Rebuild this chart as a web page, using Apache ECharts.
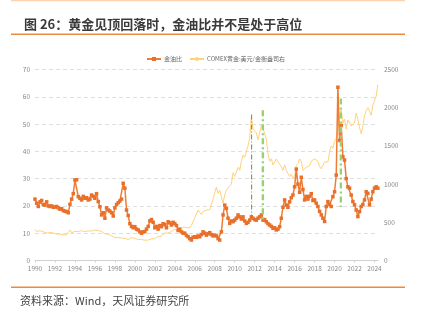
<!DOCTYPE html>
<html><head><meta charset="utf-8">
<script src="https://cdn.jsdelivr.net/npm/echarts@6/dist/echarts.min.js"></script>
<style>html,body{margin:0;padding:0;background:#fff;}#c{width:421px;height:323px;}</style>
</head><body><div id="c"></div>
<script>
// Bi-monthly observations starting Jan 1990 (6 per year)
const startYear = 1990;
const stepsPerYear = 6;

// 金油比 (left axis)
const ratioValues = [
  22.5, 21.0, 19.8, 21.5, 22.0, 20.5,   // 1990
  20.3, 21.5, 20.0, 19.8, 20.0, 19.5,   // 1991
  19.6, 19.8, 19.3, 18.8, 19.0, 18.3,   // 1992
  18.1, 17.9, 17.5, 20.6, 22.5, 24.5,   // 1993
  29.5, 29.6, 23.4, 22.8, 22.2, 23.5,   // 1994
  22.8, 23.0, 22.2, 22.5, 24.0, 23.5,   // 1995
  22.8, 24.5, 21.6, 19.7, 16.7, 17.5,   // 1996
  15.5, 19.3, 18.5, 18.1, 17.5, 16.3,   // 1997
  19.3, 20.5, 21.2, 21.8, 22.5, 28.3,   // 1998
  26.5, 18.5, 16.5, 13.5, 12.5, 12.0,   // 1999
  12.4, 11.5, 11.2, 10.5, 10.0, 10.5,   // 2000
  10.6, 11.5, 12.5, 14.5, 15.0, 14.0,   // 2001
  12.0, 12.5, 11.5, 12.8, 12.4, 13.5,   // 2002
  13.2, 12.0, 14.2, 13.8, 13.0, 14.0,   // 2003
  13.5, 12.8, 11.0, 11.5, 10.5, 10.0,   // 2004
  10.0, 9.2, 8.7, 8.0, 7.5, 8.5,        // 2005
  8.7, 8.5, 9.0, 8.7, 9.5, 10.5,        // 2006
  10.0, 9.3, 9.8, 10.2, 9.5, 9.0,       // 2007
  9.3, 9.0, 8.0, 7.5, 10.5, 16.7,       // 2008
  20.3, 19.1, 15.5, 13.6, 14.5, 14.2,   // 2009
  14.8, 15.5, 16.7, 16.0, 15.2, 16.0,   // 2010
  14.5, 13.6, 14.0, 14.8, 16.0, 15.5,   // 2011
  15.0, 14.8, 15.5, 16.0, 16.7, 14.8,   // 2012
  15.0, 14.2, 13.5, 13.0, 12.5, 11.8,   // 2013
  12.0, 11.2, 11.5, 12.4, 15.5, 19.5,   // 2014
  22.2, 20.3, 19.5, 21.5, 23.0, 24.0,   // 2015
  27.0, 33.5, 28.0, 25.0, 30.5, 26.0,   // 2016
  22.2, 23.5, 22.5, 23.5, 24.5, 22.0,   // 2017
  22.2, 21.0, 19.8, 18.0, 16.7, 15.5,   // 2018
  14.3, 19.8, 21.6, 20.5, 19.8, 23.4,   // 2019
  25.2, 31.3, 63.5, 44.0, 49.5, 38.0,   // 2020
  36.8, 30.0, 27.0, 26.5, 24.0, 21.6,   // 2021
  20.4, 18.5, 16.1, 17.9, 19.8, 20.5,   // 2022
  22.2, 25.2, 24.6, 20.4, 22.5, 25.2,   // 2023
  26.5, 27.0, 26.5                      // 2024
];

// COMEX黄金 美元/金衡盎司 (right axis)
const goldValues = [
  409, 380, 357, 390, 400, 375,         // 1990
  366, 360, 355, 365, 355, 360,         // 1991
  350, 345, 340, 345, 348, 335,         // 1992
  332, 335, 370, 400, 365, 372,         // 1993
  380, 385, 380, 385, 390, 382,         // 1994
  378, 385, 388, 385, 385, 388,         // 1995
  400, 398, 392, 385, 380, 375,         // 1996
  350, 350, 345, 325, 322, 305,         // 1997
  300, 295, 300, 292, 295, 292,         // 1998
  290, 285, 275, 260, 300, 295,         // 1999
  290, 285, 275, 285, 275, 265,         // 2000
  265, 262, 268, 268, 285, 278,         // 2001
  285, 295, 315, 310, 320, 320,         // 2002
  360, 335, 360, 350, 380, 395,         // 2003
  410, 410, 385, 400, 410, 440,         // 2004
  425, 430, 425, 430, 460, 485,         // 2005
  560, 570, 660, 640, 600, 640,         // 2006
  650, 660, 670, 665, 740, 800,         // 2007
  890, 960, 880, 920, 830, 750,         // 2008
  860, 920, 950, 950, 1000, 1150,       // 2009
  1100, 1110, 1220, 1180, 1300, 1380,   // 2010
  1350, 1430, 1500, 1600, 1880, 1720,   // 2011
  1700, 1670, 1580, 1600, 1770, 1720,   // 2012
  1670, 1580, 1400, 1300, 1330, 1250,   // 2013
  1250, 1330, 1290, 1310, 1230, 1180,   // 2014
  1250, 1180, 1190, 1100, 1130, 1070,   // 2015
  1110, 1240, 1270, 1330, 1300, 1180,   // 2016
  1190, 1220, 1240, 1240, 1300, 1280,   // 2017
  1330, 1320, 1300, 1230, 1200, 1220,   // 2018
  1290, 1300, 1290, 1420, 1500, 1470,   // 2019
  1560, 1600, 1720, 1900, 1980, 1800,   // 2020
  1850, 1720, 1840, 1800, 1760, 1780,   // 2021
  1800, 1930, 1850, 1740, 1660, 1760,   // 2022
  1900, 1960, 2000, 1950, 1900, 2030,   // 2023
  2050, 2150, 2300                      // 2024
];

// Green dash-dot guide lines (year, top / bottom in right-axis units)
const guideYears = [2011.69, 2012.82, 2020.63];
const guideTop = [1910, 1965, 2120];
const guideBottom = [560, 540, 700];

const seriesNames = ['金油比', 'COMEX黄金:美元/金衡盎司右'];
const titleText = '图 26：黄金见顶回落时，金油比并不是处于高位';
const sourceText = '资料来源：Wind，天风证券研究所';

const FONT = '"Noto Sans CJK SC", "Noto Sans", sans-serif';
const toPairs = arr => arr.map((v, i) => [startYear + i / stepsPerYear, v]);

const guideStyles = [
  { color: '#62a83c', width: 1.1, type: [5, 2, 1, 2] },
  { color: '#96d274', width: 2.4, type: [6, 3, 2, 3] },
  { color: '#96d274', width: 2.4, type: [6, 3, 2, 3] }
];

const guideSeries = guideYears.map((yr, i) => ({
  type: 'line', yAxisIndex: 1, silent: true, symbol: 'none', z: 6,
  data: [[yr, guideTop[i]], [yr, guideBottom[i]]],
  lineStyle: guideStyles[i]
}));

const chart = echarts.init(document.getElementById('c'), null, { renderer: 'canvas' });
chart.setOption({
  animation: false,
  backgroundColor: '#fff',
  textStyle: { fontFamily: FONT },
  title: {
    text: titleText, left: 19, top: 13,
    textStyle: { fontSize: 13, fontWeight: 'bold', color: '#3a3a3a', fontFamily: FONT }
  },
  legend: {
    data: seriesNames, left: 141, top: 51, itemWidth: 14, itemHeight: 5, itemGap: 7,
    textStyle: { fontSize: 6, color: '#666', fontFamily: FONT, padding: [0, 0, 0, -2] }
  },
  grid: { left: 35, right: 43, top: 69.5, bottom: 62.5, containLabel: false },
  xAxis: {
    type: 'value', min: 1990, max: 2024.35, interval: 2,
    axisLine: { show: true, lineStyle: { color: '#d0d0d0' } },
    axisTick: { show: true, length: 2, lineStyle: { color: '#d0d0d0' } },
    splitLine: { show: false },
    axisLabel: {
      fontSize: 6.5, color: '#888', margin: 5, showMaxLabel: false,
      formatter: v => (Math.abs(v - Math.round(v)) < 1e-6 && Math.round(v) % 2 === 0) ? String(Math.round(v)) : ''
    }
  },
  yAxis: [
    {
      type: 'value', min: 0, max: 70, interval: 10,
      axisLine: { show: false }, axisTick: { show: false },
      axisLabel: { fontSize: 6.5, color: '#888', margin: 5 },
      splitLine: { show: true, lineStyle: { color: '#dedede', type: [4, 3], width: 1 } }
    },
    {
      type: 'value', min: 0, max: 2500, interval: 500, position: 'right',
      axisLine: { show: false }, axisTick: { show: false },
      axisLabel: { fontSize: 6.5, color: '#888', margin: 6, formatter: v => String(v) },
      splitLine: { show: false }
    }
  ],
  series: [
    {
      name: seriesNames[1], type: 'line', yAxisIndex: 1, symbol: 'none', z: 2,
      data: toPairs(goldValues),
      lineStyle: { color: '#FFD27A', width: 1 },
      itemStyle: { color: '#FFD27A' }
    },
    {
      name: seriesNames[0], type: 'line', yAxisIndex: 0, z: 3,
      symbol: 'rect', symbolSize: 3.5, showSymbol: true, showAllSymbol: true,
      data: toPairs(ratioValues),
      lineStyle: { color: '#EE7C35', width: 1.5 },
      itemStyle: { color: '#E8702A' }
    },
    ...guideSeries
  ],
  graphic: [
    { type: 'line', shape: { x1: 11, y1: 0.5, x2: 405, y2: 0.5 }, style: { stroke: '#FBD3B0', lineWidth: 1.5 } },
    { type: 'line', shape: { x1: 11, y1: 34.3, x2: 405, y2: 34.3 }, style: { stroke: '#EE8A3C', lineWidth: 1.5 } },
    { type: 'line', shape: { x1: 11, y1: 287.3, x2: 405, y2: 287.3 }, style: { stroke: '#EE8A3C', lineWidth: 1.5 } },
    { type: 'text', left: 20, top: 295, style: { text: sourceText, fontSize: 11, fill: '#444', fontFamily: FONT } }
  ]
});
</script>
</body></html>
